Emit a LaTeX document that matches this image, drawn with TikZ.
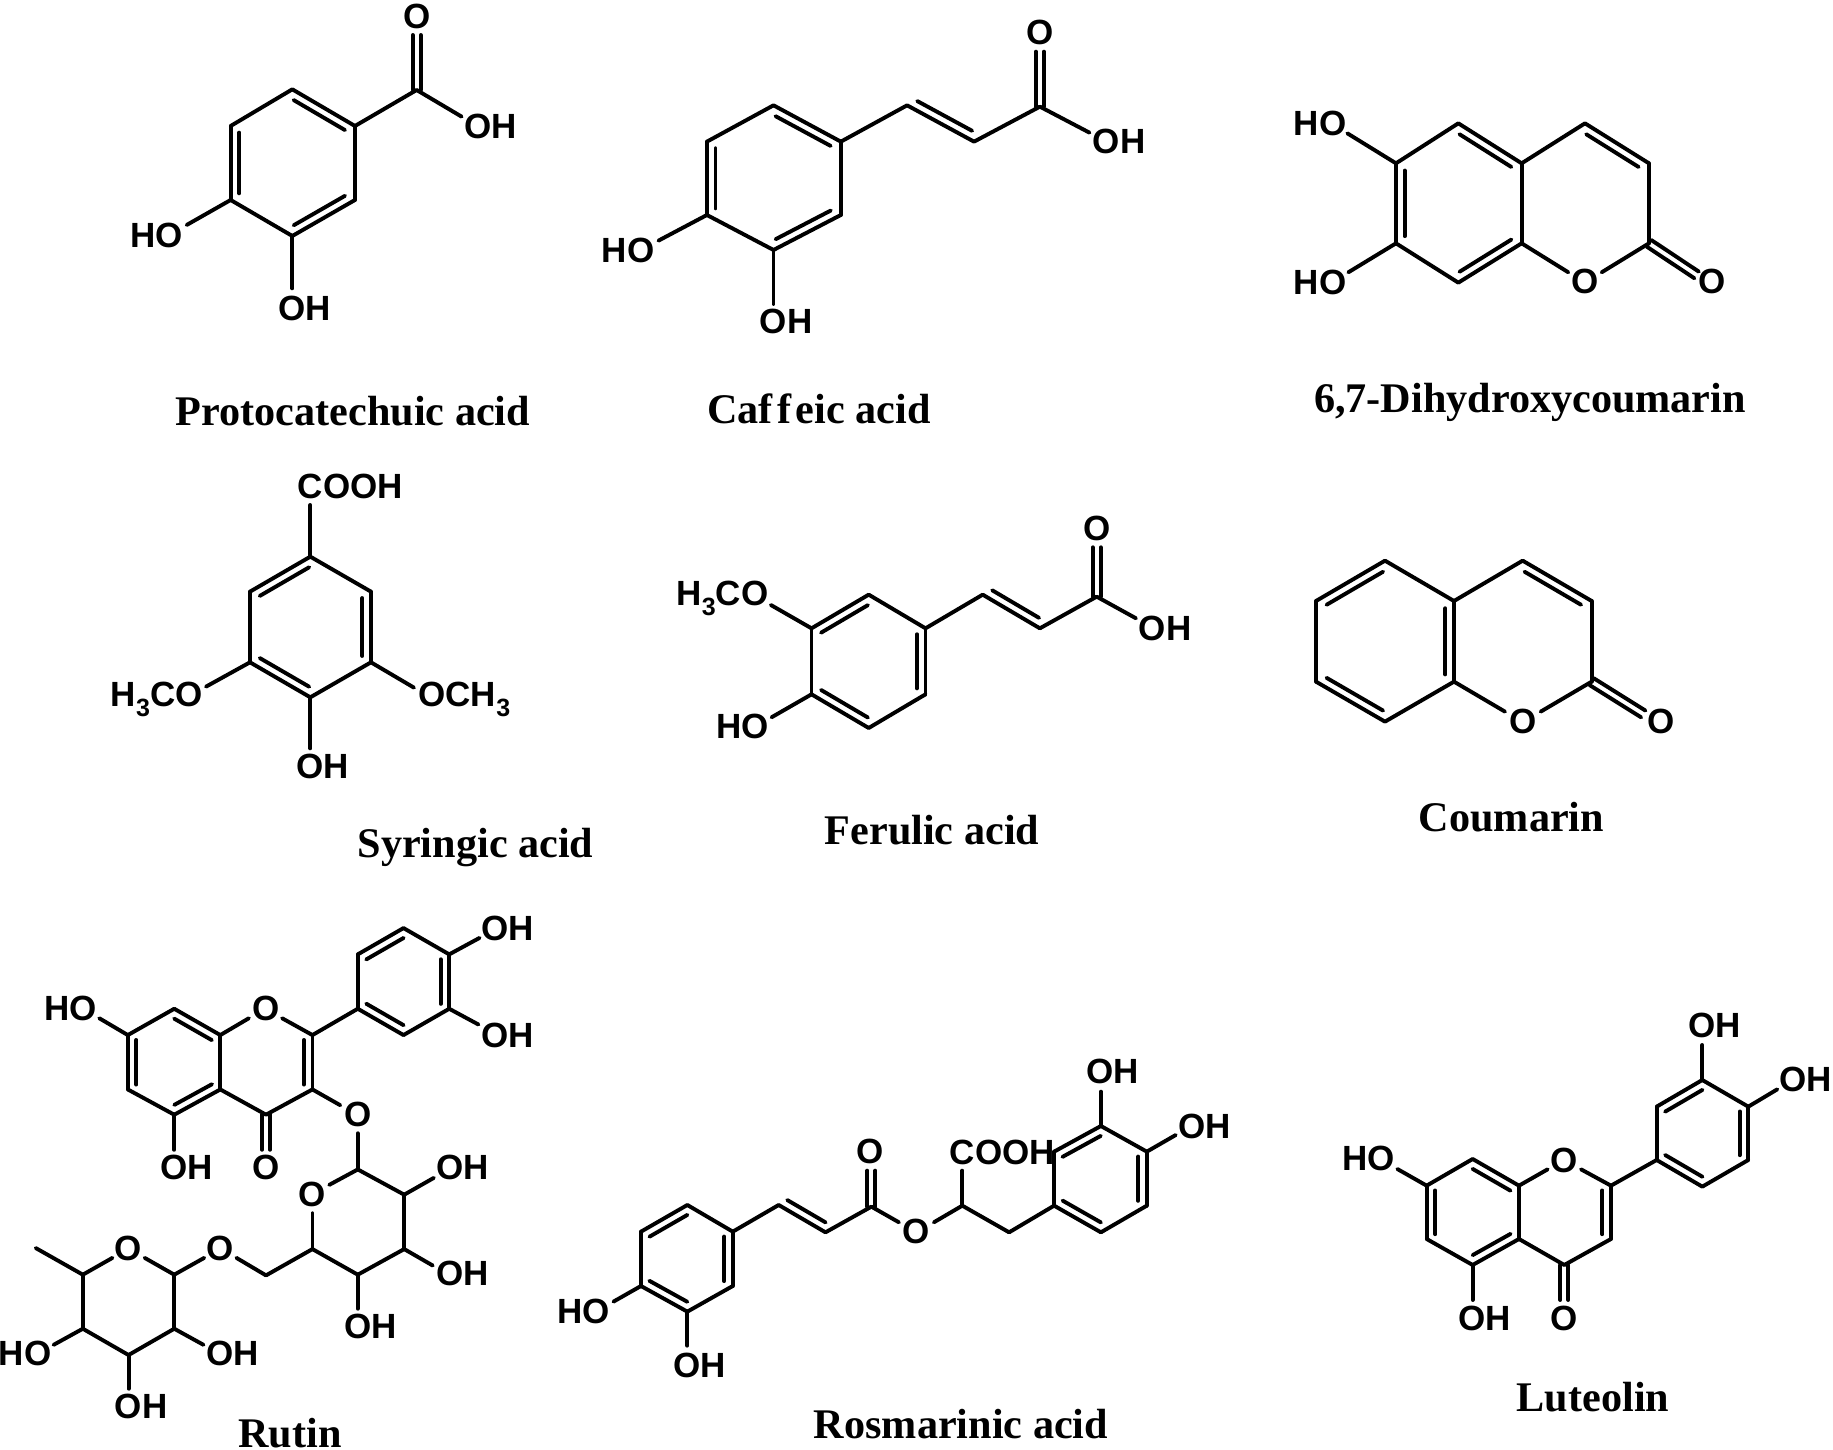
\documentclass[tikz,border=0pt]{standalone}
\usepackage{fontspec}
\usetikzlibrary{calc}
\newfontfamily\atomf{Liberation Sans}
\newfontfamily\titlef{Liberation Serif}[Ligatures=NoCommon]
\newcommand\lowsub[1]{\raisebox{-.28em}{\smash{\fontsize{12.5}{12.5}\selectfont #1}}}
\newcommand\atm[3]{\coordinate (#1) at (#2,#3);}
\newcommand\lab[4]{\node[atom] (#1) at (#2,#3) {#4};}
\newcommand\bonds[1]{\foreach \u/\v in {#1}{\draw[bond] (\u) -- (\v);}}
\newcommand\inner[1]{\foreach \u/\v in {#1}{\draw[bond] ($(\u)!.09!(\v)!4.3pt!90:(\v)$) -- ($(\v)!.09!(\u)!4.3pt!-90:(\u)$);}}
\newcommand\both[1]{\foreach \u/\v in {#1}{%
  \draw[bond] ($(\u)!2pt!90:(\v)$) -- ($(\v)!2pt!-90:(\u)$);
  \draw[bond] ($(\u)!2pt!-90:(\v)$) -- ($(\v)!2pt!90:(\u)$);}}
\tikzset{
  bond/.style={draw=black,line width=1.95pt,line cap=round,line join=round},
  atom/.style={font=\atomf\bfseries\fontsize{17.5}{17.5}\selectfont,inner sep=0pt,text=black},
  title/.style={font=\titlef\bfseries\fontsize{21.1}{21.1}\selectfont,inner sep=0pt,text=black},
  mol/.style n args={4}{shift={(#1,#2)},x=0.5pt/#3,y=-0.5pt/#4}
}
\begin{document}
\begin{tikzpicture}[x=0.5pt,y=-0.5pt]
\useasboundingbox (0,0) rectangle (1833,1450);
\fill[white] (0,0) rectangle (1833,1450);
% Protocatechuic acid
\begin{scope}[mol={100}{0}{3}{3}]
\atm{1a}{577}{268}\atm{1b}{765}{378}\atm{1c}{765}{600}\atm{1d}{577}{708}\atm{1e}{392}{600}\atm{1f}{392}{378}
\atm{1g}{950}{270}\atm{1h}{950}{105}\atm{1i}{1085}{350}\atm{1j}{260}{675}\atm{1k}{577}{865}
\lab{1O}{950}{50}{O}\lab{1OH}{1172}{378}{OH}\lab{1HO}{170}{705}{HO}\lab{1OHb}{615}{925}{OH}
\bonds{1a/1b,1b/1c,1c/1d,1d/1e,1e/1f,1f/1a,1b/1g,1g/1i,1e/1j,1d/1k}
\inner{1b/1a,1f/1e,1d/1c}\both{1g/1h}
\end{scope}
% Caffeic acid
\begin{scope}[mol={590}{0}{2.703}{3}]
\atm{2a}{496}{316}\atm{2b}{678}{425}\atm{2c}{678}{645}\atm{2d}{496}{750}\atm{2e}{316}{645}\atm{2f}{316}{425}
\atm{2h}{857}{316}\atm{2i}{1038}{425}\atm{2j}{1216}{320}\atm{2k}{1216}{155}\atm{2l}{1350}{398}\atm{2m}{185}{722}\atm{2n}{496}{912}
\lab{2O}{1216}{98}{O}\lab{2OH}{1430}{425}{OH}\lab{2HO}{103}{750}{HO}\lab{2OHb}{530}{965}{OH}
\bonds{2a/2b,2b/2c,2c/2d,2d/2e,2e/2f,2f/2a,2b/2h,2h/2i,2i/2j,2j/2l,2e/2m,2d/2n}
\inner{2b/2a,2f/2e,2d/2c,2h/2i}\both{2j/2k}
\end{scope}
% 6,7-Dihydroxycoumarin
\begin{scope}[mol={1270}{90}{3}{3}]
\atm{3a}{565}{100}\atm{3b}{755}{220}\atm{3c}{755}{460}\atm{3d}{565}{578}\atm{3e}{378}{460}\atm{3f}{378}{220}
\atm{3g}{945}{100}\atm{3h}{1137}{220}\atm{3i}{1137}{460}\atm{3j}{895}{547}\atm{3k}{995}{547}\atm{3l}{1280}{555}\atm{3m}{232}{130}\atm{3n}{235}{547}
\lab{3O}{945}{575}{O}\lab{3Ob}{1326}{575}{O}\lab{3HO}{150}{100}{HO}\lab{3HOb}{150}{577}{HO}
\bonds{3a/3b,3b/3c,3c/3d,3d/3e,3e/3f,3f/3a,3b/3g,3g/3h,3h/3i,3c/3j,3k/3i,3f/3m,3e/3n}
\inner{3b/3a,3f/3e,3d/3c,3h/3g}\both{3i/3l}
\end{scope}
% Syringic acid
\begin{scope}[mol={100}{460}{3}{3}]
\atm{4a}{631}{290}\atm{4b}{813}{395}\atm{4c}{813}{607}\atm{4d}{631}{712}\atm{4e}{450}{607}\atm{4f}{450}{395}
\atm{4g}{631}{135}\atm{4h}{318}{680}\atm{4i}{942}{683}\atm{4j}{631}{865}
\lab{4C}{751}{78}{COOH}\lab{4L}{170}{717}{H\lowsub{3}CO}\lab{4R}{1093}{717}{OCH\lowsub{3}}\lab{4OH}{667}{920}{OH}
\bonds{4a/4b,4b/4c,4c/4d,4d/4e,4e/4f,4f/4a,4a/4g,4e/4h,4c/4i,4d/4j}
\inner{4a/4f,4c/4b,4e/4d}
\end{scope}
% Ferulic acid
\begin{scope}[mol={660}{500}{2.851}{3}]
\atm{5a}{595}{284}\atm{5b}{757}{385}\atm{5c}{757}{583}\atm{5d}{595}{684}\atm{5e}{432}{583}\atm{5f}{432}{385}
\atm{5h}{920}{284}\atm{5i}{1083}{385}\atm{5j}{1245}{290}\atm{5k}{1245}{142}\atm{5l}{1357}{355}\atm{5m}{316}{315}\atm{5n}{318}{652}
\lab{5O}{1245}{85}{O}\lab{5OH}{1440}{385}{OH}\lab{5L}{178}{295}{H\lowsub{3}CO}\lab{5HO}{235}{680}{HO}
\bonds{5a/5b,5b/5c,5c/5d,5d/5e,5e/5f,5f/5a,5b/5h,5h/5i,5i/5j,5j/5l,5f/5m,5e/5n}
\inner{5a/5f,5c/5b,5e/5d,5h/5i}\both{5j/5k}
\end{scope}
% Coumarin
\begin{scope}[mol={1290}{540}{3}{3}]
\atm{6a}{285}{62}\atm{6b}{492}{183}\atm{6c}{492}{425}\atm{6d}{285}{545}\atm{6e}{78}{425}\atm{6f}{78}{183}
\atm{6g}{698}{62}\atm{6h}{905}{183}\atm{6i}{905}{425}\atm{6j}{645}{515}\atm{6k}{752}{515}\atm{6l}{1060}{522}
\lab{6O}{698}{545}{O}\lab{6Ob}{1112}{545}{O}
\bonds{6a/6b,6b/6c,6c/6d,6d/6e,6e/6f,6f/6a,6b/6g,6g/6h,6h/6i,6c/6j,6k/6i}
\inner{6a/6f,6e/6d,6c/6b,6h/6g}\both{6i/6l}
\end{scope}
% Rutin
\begin{scope}[mol={0}{900}{2.8}{2.85}]
\atm{7a}{488}{310}\atm{7b}{617}{385}\atm{7c}{617}{540}\atm{7d}{488}{612}\atm{7e}{358}{540}\atm{7f}{358}{385}
\atm{7g}{875}{385}\atm{7h}{875}{540}\atm{7i}{745}{612}\atm{7j}{697}{337}\atm{7k}{790}{337}
\atm{7p}{1002}{310}\atm{7q}{1002}{155}\atm{7r}{1130}{80}\atm{7s}{1258}{155}\atm{7t}{1258}{310}\atm{7u}{1130}{385}
\atm{7v}{1343}{108}\atm{7w}{1340}{355}\atm{7x}{278}{337}\atm{7y}{488}{712}\atm{7z}{745}{712}\atm{7A}{953}{585}\atm{7B}{1002}{665}
\atm{7s1}{1002}{768}\atm{7s2}{1132}{840}\atm{7s3}{1132}{995}\atm{7s4}{1002}{1068}\atm{7s5}{875}{995}\atm{7C}{875}{893}\atm{7D}{922}{812}
\atm{7E}{1215}{792}\atm{7F}{1212}{1042}\atm{7G}{1002}{1165}\atm{7H}{745}{1070}\atm{7I}{662}{1020}\atm{7J}{572}{1020}
\atm{7s6}{488}{1068}\atm{7K}{405}{1020}\atm{7L}{315}{1020}\atm{7s7}{232}{1068}\atm{7s8}{232}{1222}\atm{7s9}{360}{1297}\atm{7s10}{488}{1222}
\atm{7M}{100}{992}\atm{7N}{570}{1268}\atm{7P}{150}{1268}\atm{7Q}{360}{1393}
\lab{7O}{745}{310}{O}\lab{7OHa}{1422}{80}{OH}\lab{7OHb}{1422}{385}{OH}\lab{7HOa}{197}{308}{HO}\lab{7OHc}{522}{762}{OH}\lab{7Oc}{745}{762}{O}\lab{7Od}{1002}{612}{O}
\lab{7Oe}{875}{840}{O}\lab{7OHd}{1295}{762}{OH}\lab{7OHe}{1295}{1064}{OH}\lab{7OHf}{1037}{1216}{OH}\lab{7Of}{617}{992}{O}\lab{7Og}{360}{992}{O}
\lab{7OHg}{652}{1292}{OH}\lab{7HOb}{70}{1292}{HO}\lab{7OHh}{395}{1443}{OH}
\bonds{7a/7b,7b/7c,7c/7d,7d/7e,7e/7f,7f/7a,7b/7j,7k/7g,7g/7h,7h/7i,7i/7c,7g/7p,7p/7q,7q/7r,7r/7s,7s/7t,7t/7u,7u/7p,7s/7v,7t/7w,7f/7x,7d/7y,7h/7A,7B/7s1}
\bonds{7s1/7s2,7s2/7s3,7s3/7s4,7s4/7s5,7s5/7C,7D/7s1,7s2/7E,7s3/7F,7s4/7G,7s5/7H,7H/7I,7J/7s6,7s6/7K,7L/7s7,7s7/7s8,7s8/7s9,7s9/7s10,7s10/7s6,7s7/7M,7s10/7N,7s8/7P,7s9/7Q}
\inner{7b/7a,7f/7e,7d/7c,7h/7g,7r/7q,7t/7s,7p/7u}\both{7i/7z}
\end{scope}
% Rosmarinic acid
\begin{scope}[mol={540}{1040}{2.178}{3}]
\atm{8a}{321}{495}\atm{8b}{420}{575}\atm{8c}{420}{738}\atm{8d}{321}{815}\atm{8e}{220}{738}\atm{8f}{220}{575}
\atm{8h}{520}{495}\atm{8i}{622}{577}\atm{8j}{722}{500}\atm{8k}{722}{392}\atm{8l}{782}{547}\atm{8m}{858}{547}\atm{8n}{920}{497}\atm{8o}{920}{392}\atm{8q}{1022}{577}
\atm{8p}{1120}{497}\atm{8r}{1120}{335}\atm{8s}{1222}{258}\atm{8t}{1322}{335}\atm{8v}{1322}{497}\atm{8u}{1222}{577}
\atm{8w}{1222}{155}\atm{8x}{1385}{285}\atm{8y}{160}{785}\atm{8z}{321}{917}
\lab{8O}{720}{335}{O}\lab{8Ob}{820}{575}{O}\lab{8C}{1007}{337}{COOH}\lab{8OHa}{1248}{95}{OH}\lab{8OHb}{1448}{258}{OH}\lab{8HO}{95}{815}{HO}\lab{8OHc}{348}{975}{OH}
\bonds{8a/8b,8b/8c,8c/8d,8d/8e,8e/8f,8f/8a,8b/8h,8h/8i,8i/8j,8j/8l,8m/8n,8n/8o,8n/8q,8q/8p,8p/8r,8r/8s,8s/8t,8t/8v,8v/8u,8u/8p,8s/8w,8t/8x,8e/8y,8d/8z}
\inner{8a/8f,8c/8b,8e/8d,8h/8i,8s/8r,8v/8t,8p/8u}\both{8j/8k}
\end{scope}
% Luteolin
\begin{scope}[mol={1320}{990}{3}{3}]
\atm{9a}{458}{507}\atm{9b}{597}{587}\atm{9c}{597}{747}\atm{9d}{458}{825}\atm{9e}{320}{747}\atm{9f}{320}{587}
\atm{9g}{873}{587}\atm{9h}{873}{747}\atm{9i}{733}{825}\atm{9j}{683}{538}\atm{9k}{783}{538}
\atm{9p}{1010}{510}\atm{9q}{1010}{350}\atm{9r}{1147}{270}\atm{9s}{1285}{350}\atm{9t}{1285}{510}\atm{9u}{1147}{590}
\atm{9v}{1147}{165}\atm{9w}{1372}{298}\atm{9x}{232}{537}\atm{9y}{458}{930}\atm{9z}{733}{930}
\lab{9O}{733}{510}{O}\lab{9OHa}{1183}{107}{OH}\lab{9OHb}{1458}{267}{OH}\lab{9HO}{145}{505}{HO}\lab{9OHc}{495}{985}{OH}\lab{9Ob}{733}{985}{O}
\bonds{9a/9b,9b/9c,9c/9d,9d/9e,9e/9f,9f/9a,9b/9j,9k/9g,9g/9h,9h/9i,9i/9c,9g/9p,9p/9q,9q/9r,9r/9s,9s/9t,9t/9u,9u/9p,9r/9v,9s/9w,9f/9x,9d/9y}
\inner{9b/9a,9f/9e,9d/9c,9h/9g,9r/9q,9t/9s,9p/9u}\both{9i/9z}
\end{scope}
% Names
\node[title] (tp) at (353,411.5) {Protocatechuic acid};
\node[title] (tc) at (819,409) {Caf\kern2.2pt f\kern2.2pt eic acid};
\node[title] (td) at (1530,402.5) {6,7-Dihydroxycoumarin};
\node[title] (ts) at (475.5,848) {Syringic acid};
\node[title] (tf) at (932,830) {Ferulic acid};
\node[title] (to) at (1511.5,817) {Coumarin};
\node[title] (tr) at (290,1433) {Rutin};
\node[title] (tm) at (961,1424) {Rosmarinic acid};
\node[title] (tl) at (1593,1397.5) {Luteolin};
\end{tikzpicture}
\end{document}
